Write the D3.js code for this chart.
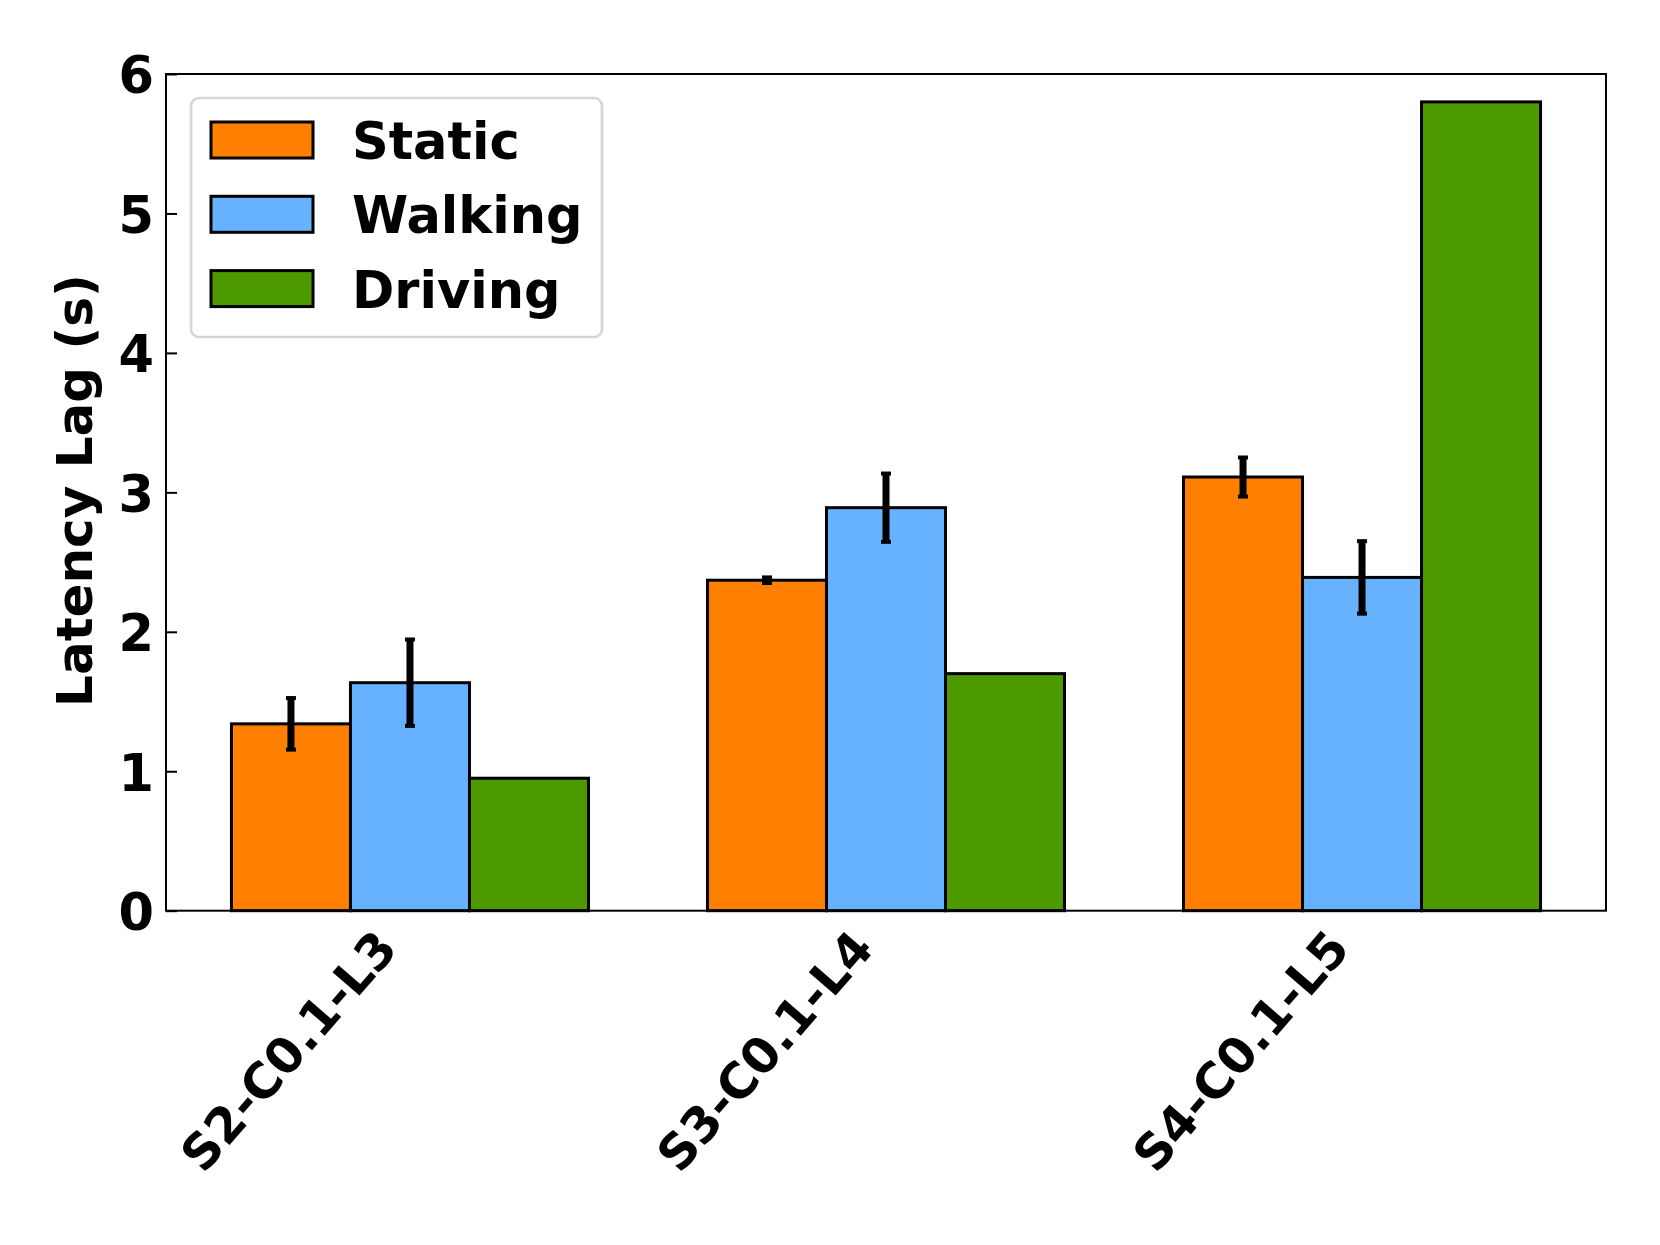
<!DOCTYPE html>
<html>
<head>
<meta charset="utf-8">
<script src="https://cdn.jsdelivr.net/npm/d3@7"></script>
<style>
  body { margin: 0; background: #fff; }
  text { font-family: "DejaVu Sans", sans-serif; font-weight: bold; }
</style>
</head>
<body>
<svg id="vis"></svg>
<script>
const WIDTH = 1660;
const HEIGHT = 1245;

// data
const categories = ["S2-C0.1-L3", "S3-C0.1-L4", "S4-C0.1-L5"];
const seriesNames = ["Static", "Walking", "Driving"];
const seriesColors = ["#ff7f00", "#66b2ff", "#4c9900"];
const staticVals = [1.34, 2.37, 3.11];
const staticErr = [0.185, 0.02, 0.14];
const walkingVals = [1.635, 2.89, 2.39];
const walkingErr = [0.31, 0.245, 0.26];
const drivingVals = [0.95, 1.70, 5.80];
const drivingErr = [0, 0, 0];
const yTicks = [0, 1, 2, 3, 4, 5, 6];

const values = [staticVals, walkingVals, drivingVals];
const errors = [staticErr, walkingErr, drivingErr];

const PLOT_L = 166, PLOT_R = 1606, PLOT_T = 74, PLOT_B = 910.7;
const barW = 0.25;

const x = d3.scaleLinear().domain([-0.5125, 2.5125]).range([PLOT_L, PLOT_R]);
const y = d3.scaleLinear().domain([0, 6]).range([PLOT_B, PLOT_T]);

const svg = d3.select("#vis").attr("width", WIDTH).attr("height", HEIGHT);

// bars
let bars = [];
seriesNames.forEach(function(s, si) {
    categories.forEach(function(c, ci) {
        bars.push({s: si, c: ci, v: values[si][ci], e: errors[si][ci]});
    });
});

svg.append("g").selectAll("rect")
    .data(bars)
    .enter()
    .append("rect")
    .attr("x", d => x(d.c + (d.s - 1) * barW - barW / 2))
    .attr("width", d => x(barW) - x(0))
    .attr("y", d => y(d.v))
    .attr("height", d => y(0) - y(d.v))
    .attr("fill", d => seriesColors[d.s])
    .attr("stroke", "#000")
    .attr("stroke-width", 3);

// error bars
const eb = svg.append("g").selectAll("g")
    .data(bars.filter(d => d.e > 0))
    .enter()
    .append("g");
eb.append("line")
    .attr("x1", d => x(d.c + (d.s - 1) * barW))
    .attr("x2", d => x(d.c + (d.s - 1) * barW))
    .attr("y1", d => y(d.v + d.e))
    .attr("y2", d => y(d.v - d.e))
    .attr("stroke", "#000")
    .attr("stroke-width", 7);
[1, -1].forEach(function(sign) {
    eb.append("line")
        .attr("x1", d => x(d.c + (d.s - 1) * barW) - 5)
        .attr("x2", d => x(d.c + (d.s - 1) * barW) + 5)
        .attr("y1", d => y(d.v + sign * d.e))
        .attr("y2", d => y(d.v + sign * d.e))
        .attr("stroke", "#000")
        .attr("stroke-width", 4);
});

// frame
svg.append("rect")
    .attr("x", PLOT_L).attr("y", PLOT_T)
    .attr("width", PLOT_R - PLOT_L).attr("height", PLOT_B - PLOT_T)
    .attr("fill", "none")
    .attr("stroke", "#000")
    .attr("stroke-width", 2);

// y axis, ticks pointing inward
const yAxis = svg.append("g")
    .attr("transform", "translate(" + PLOT_L + ",0)")
    .call(d3.axisLeft(y).tickValues(yTicks).tickFormat(d3.format("d"))
        .tickSizeInner(-11).tickSizeOuter(0).tickPadding(12));
yAxis.select(".domain").remove();
yAxis.selectAll(".tick line").attr("stroke", "#000").attr("stroke-width", 2);
yAxis.selectAll(".tick text")
    .attr("fill", "#000")
    .attr("dy", "0.37em")
    .style("font-size", "51px")
    .style("font-family", "DejaVu Sans")
    .style("font-weight", "bold");

// x axis, rotated labels
const xAxis = svg.append("g")
    .attr("transform", "translate(0," + PLOT_B + ")")
    .call(d3.axisBottom(x).tickValues([0, 1, 2]).tickFormat(i => categories[i])
        .tickSize(0));
xAxis.select(".domain").remove();
xAxis.selectAll(".tick text")
    .attr("fill", "#000")
    .attr("x", 0).attr("y", 0).attr("dy", null)
    .attr("text-anchor", "end")
    .attr("transform", "translate(-11,39) rotate(-49)")
    .style("font-size", "49px")
    .style("font-family", "DejaVu Sans")
    .style("font-weight", "bold");

// y label
svg.append("text")
    .attr("transform", "translate(92,490.5) rotate(-90)")
    .attr("text-anchor", "middle")
    .style("font-size", "50px")
    .text("Latency Lag (s)");

// legend
const legend = svg.append("g");
legend.append("rect")
    .attr("x", 191).attr("y", 98)
    .attr("width", 411).attr("height", 239)
    .attr("rx", 8)
    .attr("fill", "#fff")
    .attr("stroke", "#d6d6d6")
    .attr("stroke-width", 2.7);
const items = legend.selectAll("g.item")
    .data(seriesNames)
    .enter()
    .append("g")
    .attr("class", "item")
    .attr("transform", (d, i) => "translate(0," + (140 + i * 74.3) + ")");
items.append("rect")
    .attr("x", 211).attr("y", -18)
    .attr("width", 102).attr("height", 36)
    .attr("fill", (d, i) => seriesColors[i])
    .attr("stroke", "#000")
    .attr("stroke-width", 3);
items.append("text")
    .attr("x", 352).attr("y", 19)
    .style("font-size", "51px")
    .text(d => d);
</script>
</body>
</html>
